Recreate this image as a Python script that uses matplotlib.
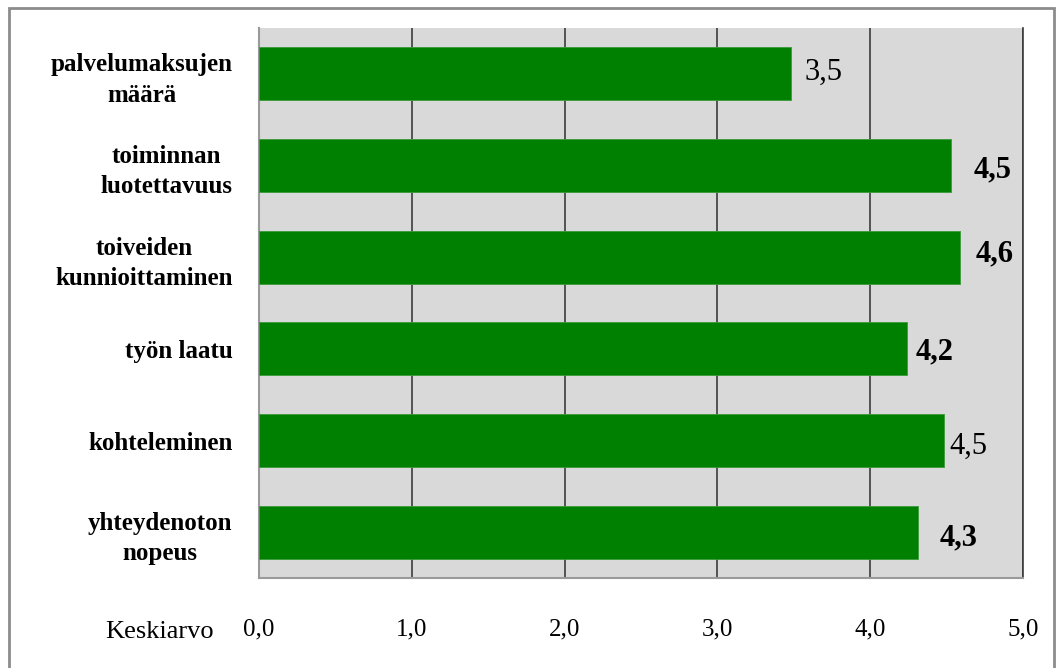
import matplotlib
matplotlib.use("Agg")
import matplotlib.pyplot as plt
from matplotlib.patches import Rectangle

# Keskiarvot kysymyksittäin (ylhäältä alas)
categories = [
    "palvelumaksujen\nmäärä",
    "toiminnan\nluotettavuus",
    "toiveiden\nkunnioittaminen",
    "työn laatu",
    "kohteleminen",
    "yhteydenoton\nnopeus",
]
values = [3.48, 4.53, 4.59, 4.24, 4.48, 4.31]
x_ticks = [0, 1, 2, 3, 4, 5]

# arvojen siirrot (pt) ja lihavointi
label_dx = [10, 16, 11, 6, 4, 16]
label_dy = [1, -3, 2, -2, -4, -4]
label_weight = ["normal", "bold", "bold", "bold", "normal", "bold"]

plt.rcParams["font.family"] = ["Liberation Serif", "DejaVu Serif"]

fig = plt.figure(figsize=(10.59, 6.68), dpi=100)
ax = fig.add_axes([259 / 1059, 1 - 578 / 668, (1023 - 259) / 1059, (578 - 28) / 668])
ax.set_facecolor("#d9d9d9")

y = range(len(categories))
ax.barh(y, values, height=0.58, color="#008000", edgecolor="#3a9a3a", linewidth=0.6, zorder=3)

for i, v in enumerate(values):
    ax.annotate(f"{v:.1f}".replace(".", ","), (v, i), xytext=(label_dx[i], label_dy[i]),
                textcoords="offset points", ha="left", va="center",
                fontsize=22, fontweight=label_weight[i], color="black", zorder=4)

ax.set_xlim(0, 5)
ax.set_ylim(len(categories) - 0.5, -0.5)

ax.set_xticks(x_ticks)
ax.set_xticklabels([f"{t:.1f}".replace(".", ",") for t in x_ticks], fontsize=18)
ax.set_yticks(list(y))
ax.set_yticklabels(categories, fontsize=18, fontweight="bold", ha="right",
                   multialignment="center", linespacing=1.4)
ax.tick_params(axis="x", length=0, pad=29)
ax.tick_params(axis="y", length=0, pad=19)

ax.grid(True, axis="x", color="#3c3c3c", linewidth=1.2, zorder=1)
ax.set_axisbelow(True)

ax.spines["top"].set_visible(False)
ax.spines["left"].set_color("#9a9a9a")
ax.spines["left"].set_linewidth(1.5)
ax.spines["bottom"].set_color("#9a9a9a")
ax.spines["bottom"].set_linewidth(1.5)
ax.spines["right"].set_color("#3c3c3c")
ax.spines["right"].set_linewidth(1.2)

fig.text(160 / 1059, 1 - 632 / 668, "Keskiarvo", fontsize=19, ha="center", va="center")

# kaavion kehys
fig.patches.append(Rectangle((9 / 1059, -0.02), (1054 - 9) / 1059, 1.02 - 8 / 668,
                             transform=fig.transFigure, fill=False,
                             edgecolor="#8c8c8c", linewidth=2))

fig.savefig("out.png", dpi=100)
